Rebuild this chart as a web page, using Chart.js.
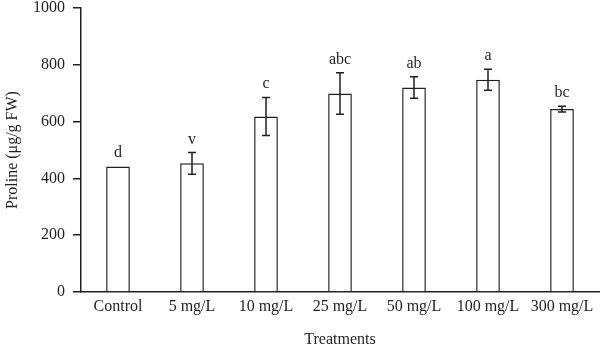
<!DOCTYPE html>
<html>
<head>
<meta charset="utf-8">
<script src="https://cdn.jsdelivr.net/npm/chart.js@4/dist/chart.umd.min.js"></script>
<style>
html,body{margin:0;padding:0;background:#fff;overflow:hidden;}
#wrap{width:600px;height:349px;position:relative;}
canvas{display:block;}
</style>
</head>
<body>
<div id="wrap"><canvas id="c" width="600" height="349" style="width:600px;height:349px"></canvas></div>
<script>
const categories = ["Control", "5 mg/L", "10 mg/L", "25 mg/L", "50 mg/L", "100 mg/L", "300 mg/L"];
const prolineMeans = [442, 453, 618, 699, 720, 747, 644];
const prolineErrors = [0, 38, 67, 73, 38, 37, 10];
const groupLetters = ["d", "v", "c", "abc", "ab", "a", "bc"];
const yTicks = [0, 200, 400, 600, 800, 1000];

const FONT = "'Liberation Serif', 'DejaVu Serif', serif";
const INK = "#231f20";
const FS = 16;

const errorBarPlugin = {
  id: 'errorBars',
  afterDatasetsDraw(chart) {
    const ctx = chart.ctx;
    const meta = chart.getDatasetMeta(0);
    const y = chart.scales.y;
    ctx.save();
    ctx.strokeStyle = INK;
    ctx.lineWidth = 1.5;
    ctx.fillStyle = INK;
    ctx.font = FS + "px " + FONT;
    ctx.textAlign = 'center';
    ctx.textBaseline = 'alphabetic';
    meta.data.forEach((bar, i) => {
      const v = prolineMeans[i], e = prolineErrors[i];
      const x = bar.x;
      const yt = y.getPixelForValue(v + e);
      const yb = y.getPixelForValue(v - e);
      if (e > 0) {
        ctx.beginPath();
        ctx.moveTo(x, yt); ctx.lineTo(x, yb);
        ctx.moveTo(x - 4, yt); ctx.lineTo(x + 4, yt);
        ctx.moveTo(x - 4, yb); ctx.lineTo(x + 4, yb);
        ctx.stroke();
      }
      ctx.fillText(groupLetters[i], x, yt - 9);
    });
    ctx.restore();
  }
};

new Chart(document.getElementById('c'), {
  type: 'bar',
  data: {
    labels: categories,
    datasets: [{
      data: prolineMeans,
      backgroundColor: '#ffffff',
      borderColor: INK,
      borderWidth: 1.5,
      barPercentage: 0.32,
      categoryPercentage: 1.0
    }]
  },
  options: {
    responsive: false,
    maintainAspectRatio: false,
    animation: false,
    devicePixelRatio: 1,
    layout: { padding: { top: 8, right: 1, left: 0, bottom: 0 } },
    plugins: { legend: { display: false }, tooltip: { enabled: false } },
    scales: {
      x: {
        grid: { display: false, drawTicks: false },
        border: { display: true, color: INK, width: 1.5 },
        ticks: { color: INK, font: { family: FONT, size: FS }, padding: 5, maxRotation: 0, autoSkip: false },
        title: { display: true, text: 'Treatments', color: INK, font: { family: FONT, size: FS }, padding: { top: 8, bottom: 0 } },
        afterFit(s) { s.height = 57; s.paddingLeft = 0; s.paddingRight = 0; }
      },
      y: {
        min: 0, max: 1000,
        afterBuildTicks(s) { s.ticks = yTicks.map(v => ({ value: v })); },
        grid: { drawOnChartArea: false, drawTicks: true, tickLength: 8, color: INK, lineWidth: 1.5 },
        border: { display: true, color: INK, width: 1.5 },
        ticks: { color: INK, font: { family: FONT, size: FS }, padding: 8, callback: (v) => String(v) },
        title: { display: true, text: 'Proline (μg/g FW)', color: INK, font: { family: FONT, size: FS }, padding: { top: 3, bottom: 2 } },
        afterFit(s) { s.width = 81; s.paddingTop = 0; s.paddingBottom = 0; }
      }
    }
  },
  plugins: [errorBarPlugin]
});
</script>
</body>
</html>
